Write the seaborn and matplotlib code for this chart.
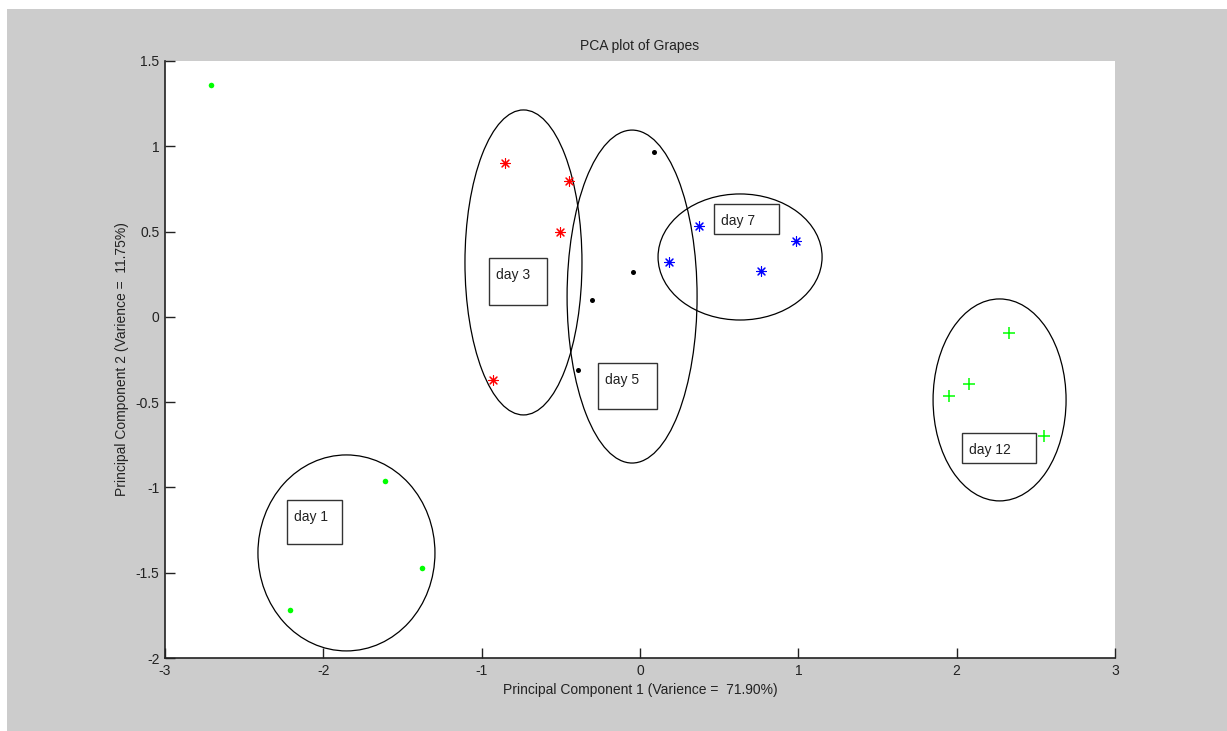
import matplotlib.pyplot as plt
import pandas as pd
import seaborn as sns
from matplotlib.patches import Ellipse, Rectangle

# scores on the first two principal components, per sampling day
days = ["day 1", "day 3", "day 5", "day 7", "day 12"]
pc1 = {
    "day 1": [-2.71, -1.61, -1.38, -2.21],
    "day 3": [-0.853, -0.448, -0.505, -0.928],
    "day 5": [0.088, -0.044, -0.303, -0.392],
    "day 7": [0.373, 0.183, 0.985, 0.764],
    "day 12": [2.331, 2.078, 1.952, 2.552],
}
pc2 = {
    "day 1": [1.36, -0.96, -1.47, -1.72],
    "day 3": [0.902, 0.797, 0.497, -0.370],
    "day 5": [0.967, 0.263, 0.099, -0.312],
    "day 7": [0.533, 0.322, 0.445, 0.269],
    "day 12": [-0.095, -0.394, -0.464, -0.699],
}

# group ellipses: centre x, centre y, width, height
ell_cx = [-1.854, -0.736, -0.050, 0.632, 2.271]
ell_cy = [-1.384, 0.319, 0.119, 0.351, -0.487]
ell_w = [1.118, 0.739, 0.821, 1.036, 0.840]
ell_h = [1.149, 1.788, 1.952, 0.739, 1.184]

# label boxes: left, right, top, bottom
box_x0 = [-2.229, -0.954, -0.265, 0.467, 2.034]
box_x1 = [-1.882, -0.587, 0.107, 0.878, 2.501]
box_y0 = [-1.074, 0.345, -0.271, 0.662, -0.681]
box_y1 = [-1.332, 0.069, -0.540, 0.486, -0.857]

colors = {"day 1": "#00ff00", "day 3": "#ff0000", "day 5": "#000000",
          "day 7": "#0000ff", "day 12": "#00ff00"}
markers = {"day 1": "o", "day 3": (8, 2, 0), "day 5": "o",
           "day 7": (8, 2, 0), "day 12": "+"}
sizes = {"day 1": 16, "day 3": 50, "day 5": 13, "day 7": 50, "day 12": 70}
widths = {"day 1": 0, "day 3": 0.8, "day 5": 0, "day 7": 0.8, "day 12": 1.1}

rows = []
for d in days:
    for x, y in zip(pc1[d], pc2[d]):
        rows.append({"day": d, "pc1": x, "pc2": y})
df = pd.DataFrame(rows)

sns.set_theme(style="white")
plt.rcParams["font.family"] = ["Liberation Sans", "DejaVu Sans"]

fig = plt.figure(figsize=(12.27, 7.31), dpi=100, facecolor="white")
fig.patches.append(Rectangle((7 / 1227, 0), 1220 / 1227, 722 / 731,
                             transform=fig.transFigure, facecolor="#cccccc",
                             edgecolor="none", zorder=-10))
ax = fig.add_axes([165 / 1227, 73 / 731, 950 / 1227, 597 / 731])
ax.set_facecolor("white")

for d in days:
    sub = df[df["day"] == d]
    sns.scatterplot(data=sub, x="pc1", y="pc2", ax=ax, color=colors[d],
                    marker=markers[d], s=sizes[d], edgecolor=colors[d],
                    linewidth=widths[d], zorder=3)

for i, d in enumerate(days):
    ax.add_patch(Ellipse((ell_cx[i], ell_cy[i]), ell_w[i], ell_h[i],
                         fill=False, edgecolor="black", linewidth=0.9, zorder=2))
    ax.add_patch(Rectangle((box_x0[i], box_y1[i]), box_x1[i] - box_x0[i],
                           box_y0[i] - box_y1[i], fill=False,
                           edgecolor="#333333", linewidth=1.0, zorder=2))
    ax.annotate(d, (box_x0[i], box_y0[i]), xytext=(7, -17),
                textcoords="offset pixels", va="center", ha="left",
                fontsize=10, color="#222222")

ax.set_xlim(-3, 3)
ax.set_ylim(-2, 1.5)
ax.set_xticks([-3, -2, -1, 0, 1, 2, 3])
ax.set_xticklabels(["-3", "-2", "-1", "0", "1", "2", "3"])
ax.set_yticks([-2, -1.5, -1, -0.5, 0, 0.5, 1, 1.5])
ax.set_yticklabels(["-2", "-1.5", "-1", "-0.5", "0", "0.5", "1", "1.5"])
ax.tick_params(direction="in", length=7, width=1, labelsize=10,
               colors="#222222", left=True, bottom=True, pad=4)
for s in ["top", "right"]:
    ax.spines[s].set_visible(False)
for s in ["left", "bottom"]:
    ax.spines[s].set_color("#222222")
    ax.spines[s].set_linewidth(1.2)

ax.set_title("PCA plot of Grapes", fontsize=10, color="#222222", pad=8)
ax.set_xlabel("Principal Component 1 (Varience =  71.90%)", fontsize=10,
              color="#222222", labelpad=4)
ax.set_ylabel("Principal Component 2 (Varience =  11.75%)", fontsize=10,
              color="#222222", labelpad=5)

fig.savefig("out.png", dpi=100, facecolor="white")
